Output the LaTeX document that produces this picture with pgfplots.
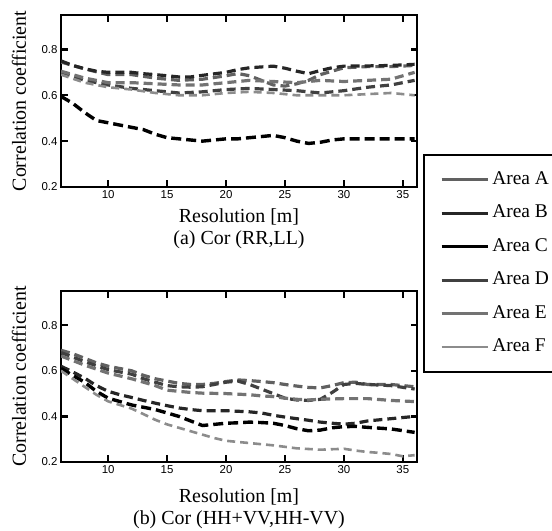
\documentclass[border=0pt]{standalone}
\usepackage{fontspec}
\setmainfont{Liberation Serif}
\newfontfamily\ticksans{Liberation Sans}
\usepackage{pgfplots}
\pgfplotsset{compat=1.18}

\pgfplotsset{
  cor axis/.style={
    scale only axis, width=356bp,
    xmin=6, xmax=36.2, ymin=0.2, ymax=0.95,
    xtick={10,15,20,25,30,35}, ytick={0.2,0.4,0.6,0.8},
    tick align=inside, major tick length=6.5bp,
    every tick/.style={black, line width=2.4bp},
    axis line style={line width=2.4bp},
    tick label style={font=\ticksans\fontsize{11.5}{12}\selectfont},
    /pgf/number format/assume math mode=true,
    y tick label style={/pgf/number format/.cd, fixed, precision=1, fixed zerofill},
    ylabel={Correlation coefficient},
    ylabel style={font=\fontsize{20}{22}\selectfont, at={(axis description cs:-0.118,0.5)}, anchor=center},
    xlabel style={font=\fontsize{20}{22}\selectfont, align=center, at={(axis description cs:0.5,0)}, anchor=north},
    legend image code/.code={\draw[#1, solid] (0bp,0bp) -- (46bp,0bp);},
    no markers,
  },
  area A/.style={black!62, line width=3.2bp, dash pattern=on 9bp off 5bp},
  area B/.style={black!85, line width=3.2bp, dash pattern=on 9bp off 5bp},
  area C/.style={black, line width=3.4bp, dash pattern=on 10bp off 5bp},
  area D/.style={black!75, line width=3.2bp, dash pattern=on 9bp off 5bp},
  area E/.style={black!55, line width=3.2bp, dash pattern=on 9bp off 5bp},
  area F/.style={black!45, line width=2.6bp, dash pattern=on 8bp off 5bp},
}

\begin{document}
\begin{tikzpicture}
\useasboundingbox (0,0) rectangle (552bp,531bp);

% (a) Cor (RR,LL)
\begin{axis}[cor axis, at={(61bp,344bp)}, anchor=south west, height=172bp,
  xlabel={Resolution [m]\\(a) Cor (RR,LL)}, xlabel style={yshift=-18bp}]
\addplot[area A] coordinates {(6,0.745)(8,0.715)(10,0.69)(12,0.69)(14,0.675)(16,0.665)(18,0.67)(20,0.685)(21,0.695)(22,0.685)(23,0.665)(24,0.645)(25,0.64)(26,0.65)(27,0.665)(28,0.69)(30,0.72)(32,0.725)(34,0.725)(36,0.73)};
\addplot[area B] coordinates {(6,0.75)(7,0.73)(8,0.716)(9,0.705)(10,0.70)(12,0.70)(13,0.694)(14,0.69)(16,0.68)(17,0.68)(18,0.687)(20,0.70)(21,0.712)(22,0.72)(24,0.727)(25,0.718)(26,0.705)(27,0.694)(28,0.708)(29,0.72)(30,0.727)(32,0.728)(34,0.73)(36,0.735)};
\addplot[area C] coordinates {(6,0.595)(7,0.565)(8,0.525)(9,0.49)(10,0.48)(11,0.47)(12,0.46)(13,0.45)(14,0.43)(15,0.415)(16,0.41)(17,0.405)(18,0.40)(19,0.405)(20,0.41)(21,0.41)(22,0.415)(23,0.42)(24,0.425)(25,0.415)(26,0.40)(27,0.39)(28,0.395)(29,0.405)(30,0.41)(32,0.41)(34,0.41)(36,0.41)};
\addplot[area D] coordinates {(6,0.70)(8,0.665)(10,0.645)(12,0.63)(14,0.62)(16,0.61)(18,0.615)(20,0.625)(22,0.63)(24,0.625)(26,0.62)(28,0.61)(30,0.62)(32,0.635)(34,0.645)(36,0.665)};
\addplot[area E] coordinates {(6,0.705)(8,0.675)(10,0.655)(12,0.655)(14,0.65)(16,0.645)(18,0.645)(20,0.655)(22,0.665)(24,0.66)(26,0.655)(28,0.665)(30,0.66)(32,0.665)(34,0.67)(36,0.70)};
\addplot[area F] coordinates {(6,0.69)(8,0.655)(10,0.635)(12,0.625)(14,0.61)(16,0.60)(18,0.60)(20,0.61)(22,0.615)(24,0.61)(26,0.60)(28,0.60)(30,0.60)(32,0.605)(34,0.61)(36,0.60)};
\end{axis}

% (b) Cor (HH+VV,HH-VV)
\begin{axis}[cor axis, at={(61bp,69bp)}, anchor=south west, height=171bp,
  xlabel={Resolution [m]\\(b) Cor (HH+VV,HH-VV)}, xlabel style={yshift=-23bp},
  legend cell align=left,
  legend style={at={(1.0169,1.80)}, anchor=north west, draw=black, line width=1.8bp,
    font=\fontsize{19.5}{22}\selectfont, inner xsep=16bp, inner ysep=16bp, row sep=16.5bp,
    nodes={inner ysep=0bp, inner xsep=3bp, text height=13bp, text depth=4bp}}]
\addplot[area A] coordinates {(6,0.69)(7,0.675)(8,0.655)(9,0.635)(10,0.62)(11,0.61)(12,0.60)(13,0.58)(14,0.565)(15,0.555)(16,0.545)(17,0.54)(18,0.54)(19,0.545)(20,0.553)(21,0.56)(22,0.557)(23,0.553)(24,0.548)(25,0.54)(26,0.533)(27,0.527)(28,0.525)(29,0.535)(30,0.548)(31,0.55)(32,0.54)(34,0.54)(36,0.53)};
\addlegendentry{Area A}
\addplot[area B] coordinates {(6,0.62)(7,0.595)(8,0.568)(9,0.535)(10,0.51)(11,0.495)(12,0.483)(13,0.47)(14,0.458)(15,0.447)(16,0.437)(17,0.43)(18,0.425)(20,0.425)(22,0.42)(23,0.415)(24,0.405)(25,0.397)(26,0.39)(27,0.383)(28,0.375)(29,0.37)(30,0.366)(31,0.37)(32,0.38)(34,0.39)(36,0.40)};
\addlegendentry{Area B}
\addplot[area C] coordinates {(6,0.61)(7,0.58)(8,0.55)(9,0.51)(10,0.48)(11,0.465)(12,0.45)(13,0.44)(14,0.43)(15,0.415)(16,0.40)(17,0.38)(18,0.36)(19,0.365)(20,0.37)(21,0.372)(22,0.375)(23,0.373)(24,0.37)(25,0.36)(26,0.346)(27,0.337)(28,0.34)(29,0.35)(30,0.355)(31,0.356)(32,0.352)(34,0.345)(36,0.33)};
\addlegendentry{Area C}
\addplot[area D] coordinates {(6,0.68)(8,0.64)(10,0.605)(12,0.585)(13,0.565)(14,0.55)(15,0.535)(16,0.53)(17,0.528)(18,0.53)(19,0.54)(20,0.55)(21,0.555)(22,0.54)(23,0.52)(24,0.50)(25,0.48)(26,0.472)(27,0.47)(28,0.475)(29,0.505)(30,0.54)(31,0.545)(32,0.54)(34,0.535)(36,0.52)};
\addlegendentry{Area D}
\addplot[area E] coordinates {(6,0.665)(8,0.625)(10,0.59)(12,0.565)(14,0.535)(15,0.515)(16,0.51)(17,0.505)(18,0.502)(20,0.50)(22,0.495)(23,0.49)(24,0.487)(25,0.48)(26,0.475)(27,0.472)(28,0.475)(30,0.478)(32,0.478)(34,0.47)(36,0.465)};
\addlegendentry{Area E}
\addplot[area F] coordinates {(6,0.60)(7,0.565)(8,0.53)(9,0.495)(10,0.466)(11,0.45)(12,0.434)(13,0.41)(14,0.385)(15,0.365)(16,0.35)(17,0.335)(18,0.32)(19,0.305)(20,0.293)(22,0.283)(24,0.273)(26,0.26)(28,0.254)(30,0.258)(31,0.25)(32,0.244)(33,0.24)(34,0.235)(35,0.225)(36,0.23)};
\addlegendentry{Area F}
\end{axis}
\end{tikzpicture}
\end{document}
